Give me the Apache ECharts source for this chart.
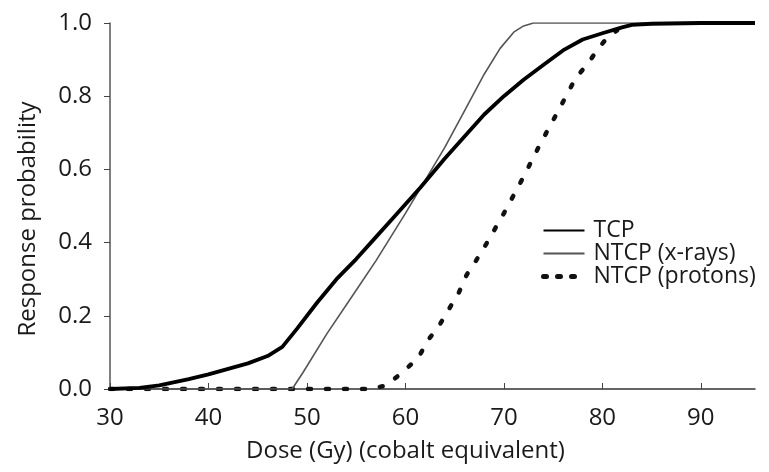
<!DOCTYPE html>
<html lang="en">
<head>
    <meta charset="UTF-8">
    <title>Response probability</title>
    <script src="https://cdn.jsdelivr.net/npm/echarts@6/dist/echarts.min.js"></script>
    <style>
        html, body { margin: 0; padding: 0; background: #fff; }
    </style>
</head>
<body>
<div id="content" style="height: 472px;width: 769px"></div>
<script>
    // dose values (Gy) and response probabilities
    var tcpDose = [30, 33, 35, 38, 40, 42, 44, 46, 47.5, 49, 51, 53, 55, 57, 59, 61.5, 64, 66, 68, 70, 72, 74, 76, 78, 80, 82, 83, 85, 90, 95.5];
    var tcpProb = [0, 0.003, 0.01, 0.027, 0.04, 0.055, 0.07, 0.09, 0.115, 0.165, 0.235, 0.3, 0.355, 0.415, 0.475, 0.55, 0.63, 0.69, 0.75, 0.8, 0.845, 0.885, 0.925, 0.955, 0.972, 0.988, 0.995, 0.998, 1, 1];

    var xrayDose = [30, 48.5, 49.6, 52, 55, 57, 60, 62, 64, 66, 68, 69.6, 71, 72, 73, 75, 80, 95.5];
    var xrayProb = [0, 0, 0.045, 0.15, 0.27, 0.35, 0.48, 0.57, 0.66, 0.76, 0.86, 0.93, 0.975, 0.992, 1, 1, 1, 1];

    var protonDose = [30, 56.4, 58.1, 59.7, 61.3, 62.3, 63.4, 64.3, 65.4, 66.2, 67.2, 68.2, 70, 72, 73.7, 75.4, 77.3, 78.4, 79.7, 80.5, 81.5];
    var protonProb = [0, 0, 0.01, 0.046, 0.085, 0.134, 0.172, 0.213, 0.262, 0.311, 0.352, 0.396, 0.48, 0.58, 0.67, 0.754, 0.85, 0.885, 0.934, 0.96, 0.98];

    var xTicks = [30, 40, 50, 60, 70, 80, 90];
    var yTicks = [0, 0.2, 0.4, 0.6, 0.8, 1.0];

    function pairs(xs, ys) {
        return xs.map(function (x, i) { return [x, ys[i]]; });
    }

    var font = '"Open Sans", Lato, sans-serif';
    var textColor = '#1a1a1a';
    var myChart = echarts.init(document.getElementById('content'));

    var option = {
        animation: false,
        backgroundColor: '#fff',
        grid: { left: 110, right: 14, top: 23, bottom: 83 },
        legend: {
            orient: 'vertical',
            left: 536,
            top: 214,
            itemWidth: 41,
            itemHeight: 14,
            itemGap: 0,
            itemStyle: { color: 'rgba(0,0,0,0)', borderWidth: 0, opacity: 0 },
            textStyle: { fontFamily: font, fontSize: 23, color: textColor, lineHeight: 23, padding: [0, 0, 0, 4] },
            data: [
                { name: 'TCP' },
                { name: 'NTCP (x-rays)' },
                { name: 'NTCP (protons)', lineStyle: { type: [3, 11], width: 5, cap: 'round' } }
            ]
        },
        xAxis: {
            type: 'value',
            min: 30,
            max: 95.5,
            interval: 10,
            name: 'Dose (Gy) (cobalt equivalent)',
            nameLocation: 'middle',
            nameGap: 50,
            nameTextStyle: { fontFamily: font, fontSize: 24, color: textColor, padding: [0, 54, 0, 0] },
            axisLine: { lineStyle: { color: '#333', width: 1.5 } },
            axisTick: { inside: true, length: 6, customValues: xTicks, lineStyle: { color: '#444' } },
            axisLabel: { customValues: xTicks, margin: 17, fontFamily: font, fontSize: 24, color: textColor },
            splitLine: { show: false }
        },
        yAxis: {
            type: 'value',
            min: 0,
            max: 1,
            interval: 0.2,
            name: 'Response probability',
            nameLocation: 'middle',
            nameGap: 70,
            nameTextStyle: { fontFamily: font, fontSize: 24, color: textColor, padding: [0, 26, 0, 0] },
            axisLine: { show: true, lineStyle: { color: '#555', width: 1.5 } },
            axisTick: { show: true, length: 6, customValues: yTicks, lineStyle: { color: '#444' } },
            axisLabel: {
                customValues: yTicks,
                margin: 18,
                fontFamily: font, fontSize: 24, color: textColor,
                formatter: function (v) { return v.toFixed(1); }
            },
            splitLine: { show: false }
        },
        series: [
            {
                name: 'NTCP (protons)',
                type: 'line',
                symbol: 'none',
                color: '#111',
                lineStyle: { color: '#111', width: 4.5, type: [3, 15], cap: 'round' },
                data: pairs(protonDose, protonProb),
                z: 2
            },
            {
                name: 'NTCP (x-rays)',
                type: 'line',
                symbol: 'none',
                color: '#555',
                lineStyle: { color: '#555', width: 1.6 },
                data: pairs(xrayDose, xrayProb),
                z: 3
            },
            {
                name: 'TCP',
                type: 'line',
                symbol: 'none',
                color: '#000',
                lineStyle: { color: '#000', width: 3.8, join: 'round' },
                data: pairs(tcpDose, tcpProb),
                z: 4
            }
        ]
    };
    myChart.setOption(option);
</script>
</body>
</html>
